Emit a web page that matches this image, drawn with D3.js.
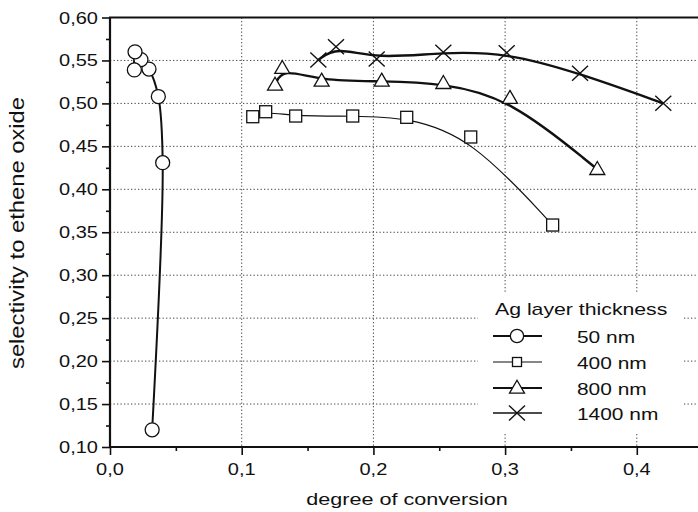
<!DOCTYPE html>
<html><head><meta charset="utf-8">
<script src="https://cdn.jsdelivr.net/npm/d3@7"></script>
<style>html,body{margin:0;padding:0;background:#fff;}svg{display:block;}</style>
</head><body>
<svg id="chart" width="698" height="512"></svg>
<script>
// ---- data ----
const xTickValues = [0, 0.1, 0.2, 0.3, 0.4];
const xTickLabels = ["0,0", "0,1", "0,2", "0,3", "0,4"];
const yTickValues = [0.10, 0.15, 0.20, 0.25, 0.30, 0.35, 0.40, 0.45, 0.50, 0.55, 0.60];
const yTickLabels = ["0,10", "0,15", "0,20", "0,25", "0,30", "0,35", "0,40", "0,45", "0,50", "0,55", "0,60"];
const seriesNames = ["50 nm", "400 nm", "800 nm", "1400 nm"];
const x50 = [0.032, 0.040, 0.0367, 0.0296, 0.0235, 0.0185, 0.0190];
const y50 = [0.120, 0.431, 0.508, 0.540, 0.551, 0.539, 0.560];
const x400 = [0.1084, 0.1182, 0.141, 0.1843, 0.2253, 0.2739, 0.3361];
const y400 = [0.4845, 0.4903, 0.4853, 0.4853, 0.4838, 0.4609, 0.3584];
const x800 = [0.1253, 0.1308, 0.1607, 0.2063, 0.2531, 0.3037, 0.370];
const y800 = [0.5214, 0.5409, 0.5261, 0.5261, 0.5234, 0.506, 0.4233];
const x1400 = [0.1582, 0.1716, 0.2025, 0.2531, 0.3012, 0.3569, 0.4201];
const y1400 = [0.5505, 0.566, 0.5517, 0.5596, 0.559, 0.535, 0.5001];
const legendTitle = "Ag layer thickness";
const xTitle = "degree of conversion";
const yTitle = "selectivity to ethene oxide";

// ---- layout ----
const svg = d3.select("#chart");
const X0 = 110, Y0 = 447, Ytop = 17.5;
const x = d3.scaleLinear().domain([0, 0.45]).range([X0, X0 + 0.45 * 1317]);
const y = d3.scaleLinear().domain([0.10, 0.60]).range([Y0, Ytop]);
const FONT = "'Liberation Sans', Arial, Helvetica, sans-serif";
const SX = 1.25;

function stxt(g, tx, ty, s, size, anchor, sx) {
  return g.append("text")
    .attr("transform", `translate(${tx},${ty}) scale(${sx || SX},1)`)
    .attr("text-anchor", anchor || "start")
    .attr("font-family", FONT).attr("font-size", size).attr("fill", "#111")
    .text(s);
}

// grid
const grid = svg.append("g").attr("stroke", "#444").attr("stroke-width", 1).attr("stroke-dasharray", "1.3,2.2");
grid.selectAll("line.h").data(yTickValues.filter(v => v > 0.1 && v < 0.6)).join("line")
  .attr("x1", X0).attr("x2", 698).attr("y1", d => y(d)).attr("y2", d => y(d));
grid.selectAll("line.v").data(xTickValues.filter(v => v > 0)).join("line")
  .attr("x1", d => x(d)).attr("x2", d => x(d)).attr("y1", Ytop).attr("y2", Y0);

// legend background (covers grid)
svg.append("rect").attr("x", 478).attr("y", 292).attr("width", 205).attr("height", 140).attr("fill", "#fff");

// axes
const yAxis = d3.axisLeft(y).tickValues(yTickValues).tickFormat((d, i) => yTickLabels[i]).tickSize(8).tickPadding(3);
const yMinor = d3.axisLeft(y).tickValues(d3.range(0.125, 0.6, 0.05)).tickFormat("").tickSize(4);
const xAxis = d3.axisBottom(x).tickValues(xTickValues).tickFormat((d, i) => xTickLabels[i]).tickSize(8).tickPadding(4);
const xMinor = d3.axisBottom(x).tickValues([0.05, 0.15, 0.25, 0.35]).tickFormat("").tickSize(4);

function styleAxis(g) {
  g.select(".domain").remove();
  g.selectAll(".tick line").attr("stroke", "#111").attr("stroke-width", 1.6);
  g.selectAll(".tick text").remove();
}
const gy = svg.append("g").attr("transform", `translate(${X0},0)`).call(yAxis); styleAxis(gy);
svg.append("g").attr("transform", `translate(${X0},0)`).call(yMinor).call(styleAxis);
const gx = svg.append("g").attr("transform", `translate(0,${Y0})`).call(xAxis); styleAxis(gx);
svg.append("g").attr("transform", `translate(0,${Y0})`).call(xMinor).call(styleAxis);

// tick labels (horizontally stretched like the reference)
yTickValues.forEach((v, i) => stxt(svg, 98, y(v) + 6, yTickLabels[i], 16, "end"));
xTickValues.forEach((v, i) => stxt(svg, x(v), 475, xTickLabels[i], 16, "middle"));

// frame lines
svg.append("line").attr("x1", X0).attr("x2", X0).attr("y1", Ytop).attr("y2", Y0 + 1).attr("stroke", "#111").attr("stroke-width", 2.2);
svg.append("line").attr("x1", X0 - 1).attr("x2", 698).attr("y1", Y0).attr("y2", Y0).attr("stroke", "#111").attr("stroke-width", 2.2);
svg.append("line").attr("x1", X0 - 1).attr("x2", 698).attr("y1", Ytop).attr("y2", Ytop).attr("stroke", "#111").attr("stroke-width", 2.2);

// titles
stxt(svg, 407, 505, xTitle, 17, "middle", 1.27);
svg.append("text").attr("transform", `translate(24,233) rotate(-90)`)
  .attr("text-anchor", "middle").attr("font-family", FONT).attr("font-size", 20).attr("fill", "#111")
  .attr("textLength", 272).attr("lengthAdjust", "spacingAndGlyphs")
  .text(yTitle);

// markers
function marker(g, type, cx, cy, scale) {
  const s = scale || 1;
  if (type === "circle") {
    g.append("circle").attr("cx", cx).attr("cy", cy).attr("r", 7 * s).attr("fill", "#fff").attr("stroke", "#111").attr("stroke-width", 1.3);
  } else if (type === "square") {
    const h = 6 * s;
    g.append("rect").attr("x", cx - h).attr("y", cy - h).attr("width", 2 * h).attr("height", 2 * h).attr("fill", "#fff").attr("stroke", "#111").attr("stroke-width", 1.3);
  } else if (type === "triangle") {
    const w = 7.5 * s, hh = 13 * s;
    g.append("path").attr("d", `M${cx},${cy - hh * 0.6}L${cx + w},${cy + hh * 0.4}L${cx - w},${cy + hh * 0.4}Z`).attr("fill", "#fff").attr("stroke", "#111").attr("stroke-width", 1.3);
  } else if (type === "cross") {
    const w = 8 * s, hh = 7.5 * s;
    g.append("path").attr("d", `M${cx - w},${cy - hh}L${cx + w},${cy + hh}M${cx - w},${cy + hh}L${cx + w},${cy - hh}`).attr("fill", "none").attr("stroke", "#111").attr("stroke-width", 1.4);
  }
}

const series = [
  { xs: x50, ys: y50, m: "circle", w: 2.0, curve: d3.curveCatmullRom },
  { xs: x400, ys: y400, m: "square", w: 1.2, curve: d3.curveBasis },
  { xs: x800, ys: y800, m: "triangle", w: 2.4, curve: d3.curveBasis },
  { xs: x1400, ys: y1400, m: "cross", w: 2.4, curve: d3.curveBasis }
];
const plot = svg.append("g");
series.forEach(s => {
  const pts = s.xs.map((v, i) => [v, s.ys[i]]);
  plot.append("path").datum(pts)
    .attr("d", d3.line().x(d => x(d[0])).y(d => y(d[1])).curve(s.curve))
    .attr("fill", "none").attr("stroke", "#111").attr("stroke-width", s.w);
});
series.forEach(s => {
  s.xs.forEach((v, i) => marker(plot, s.m, x(v), y(s.ys[i])));
});

// legend
const lg = svg.append("g");
stxt(lg, 495, 315, legendTitle, 17, "start", 1.25);
const legendBase = [343, 369, 395, 420];
const legendW = [1.8, 1.2, 2.2, 1.6];
series.forEach((s, i) => {
  const cy = legendBase[i] - 7;
  lg.append("line").attr("x1", 493).attr("x2", 542).attr("y1", cy).attr("y2", cy).attr("stroke", "#111").attr("stroke-width", legendW[i]);
  const sc = s.m === "square" ? 0.75 : (s.m === "circle" ? 0.95 : 1);
  marker(lg, s.m, 517, cy, sc);
  stxt(lg, 577, legendBase[i], seriesNames[i], 17, "start", 1.23);
});
</script>
</body></html>
